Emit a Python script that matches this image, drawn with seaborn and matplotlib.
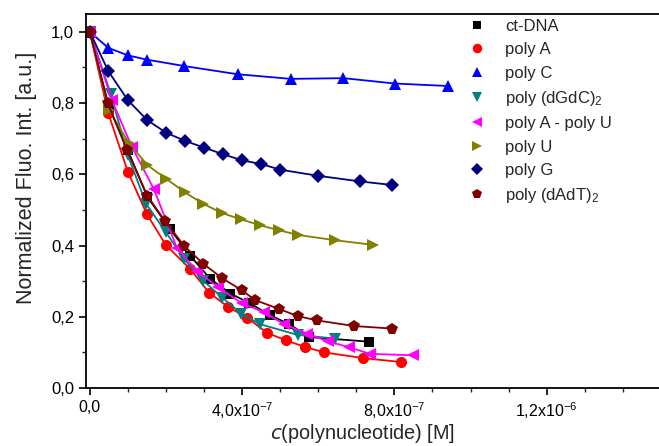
import numpy as np
import pandas as pd
import matplotlib
matplotlib.use('Agg')
import matplotlib.pyplot as plt
import seaborn as sns
from matplotlib.ticker import MultipleLocator, FuncFormatter
from matplotlib.lines import Line2D

# --- data (x in M, y normalized) ---
ct_dna_x = [0, 5.0e-8, 1.0e-7, 1.51e-7, 2.11e-7, 2.64e-7, 3.16e-7, 3.69e-7, 4.19e-7, 4.72e-7, 5.24e-7, 5.76e-7, 7.34e-7]
ct_dna_y = [1.0, 0.79, 0.667, 0.537, 0.446, 0.371, 0.307, 0.265, 0.239, 0.205, 0.179, 0.143, 0.13]

polyA_x = [0, 4.8e-8, 1.0e-7, 1.5e-7, 2.0e-7, 2.64e-7, 3.13e-7, 3.64e-7, 4.14e-7, 4.65e-7, 5.15e-7, 5.66e-7, 6.16e-7, 7.18e-7, 8.17e-7]
polyA_y = [1.0, 0.773, 0.607, 0.488, 0.401, 0.334, 0.268, 0.227, 0.197, 0.155, 0.134, 0.115, 0.100, 0.084, 0.073]

polyC_x = [0, 4.85e-8, 1.0e-7, 1.5e-7, 2.48e-7, 3.88e-7, 5.28e-7, 6.66e-7, 8.01e-7, 9.4e-7]
polyC_y = [1.0, 0.955, 0.934, 0.922, 0.904, 0.881, 0.868, 0.870, 0.855, 0.848]

dgdc_x = [0, 5.5e-8, 1.0e-7, 1.48e-7, 2.0e-7, 2.48e-7, 2.98e-7, 3.48e-7, 3.97e-7, 4.48e-7, 5.46e-7, 6.44e-7]
dgdc_y = [1.0, 0.826, 0.653, 0.517, 0.437, 0.362, 0.301, 0.254, 0.209, 0.179, 0.149, 0.139]

au_x = [0, 5.8e-8, 1.11e-7, 1.68e-7, 2.29e-7, 2.81e-7, 3.37e-7, 3.99e-7, 4.57e-7, 5.09e-7, 5.70e-7, 6.25e-7, 6.80e-7, 7.36e-7, 8.48e-7]
au_y = [1.0, 0.808, 0.676, 0.559, 0.393, 0.329, 0.283, 0.238, 0.213, 0.180, 0.153, 0.131, 0.115, 0.096, 0.092]

polyU_x = [0, 5.0e-8, 1.03e-7, 1.51e-7, 2.0e-7, 2.49e-7, 2.98e-7, 3.48e-7, 3.96e-7, 4.47e-7, 4.97e-7, 5.46e-7, 6.44e-7, 7.44e-7]
polyU_y = [1.0, 0.78, 0.688, 0.626, 0.588, 0.550, 0.517, 0.491, 0.474, 0.457, 0.443, 0.430, 0.415, 0.402]

polyG_x = [0, 4.9e-8, 1.0e-7, 1.5e-7, 2.0e-7, 2.5e-7, 3.0e-7, 3.51e-7, 4.01e-7, 4.5e-7, 5.0e-7, 5.99e-7, 7.1e-7, 7.95e-7]
polyG_y = [1.0, 0.889, 0.808, 0.753, 0.717, 0.694, 0.675, 0.656, 0.639, 0.629, 0.613, 0.596, 0.580, 0.570]

dadt_x = [0, 4.7e-8, 9.8e-8, 1.51e-7, 1.98e-7, 2.48e-7, 2.98e-7, 3.48e-7, 4.0e-7, 4.34e-7, 4.97e-7, 5.46e-7, 5.96e-7, 6.94e-7, 7.93e-7]
dadt_y = [1.0, 0.80, 0.667, 0.540, 0.468, 0.399, 0.349, 0.308, 0.274, 0.247, 0.222, 0.202, 0.190, 0.174, 0.167]

labels = ['ct-DNA', 'poly A', 'poly C', 'poly (dGdC)$_2$', 'poly A - poly U',
          'poly U', 'poly G', 'poly (dAdT)$_2$']

series = [
    (ct_dna_x, ct_dna_y, '#000000', 's', 7),
    (polyA_x, polyA_y, '#ff0000', 'o', 8),
    (polyC_x, polyC_y, '#0000ff', '^', 8),
    (dgdc_x, dgdc_y, '#008080', 'v', 8),
    (au_x, au_y, '#ff00ff', '<', 8),
    (polyU_x, polyU_y, '#808000', '>', 8),
    (polyG_x, polyG_y, '#000080', 'D', 7),
    (dadt_x, dadt_y, '#800000', 'p', 8.5),
]

sns.set_style('ticks')
plt.rcParams['font.family'] = ['Liberation Sans', 'DejaVu Sans']
plt.rcParams['mathtext.default'] = 'regular'

fig = plt.figure(figsize=(6.59, 4.46), dpi=100)
ax = fig.add_axes([0.1305, 0.130, 0.8695, 0.8385])

handles = []
for (xs, ys, col, mk, ms), lab in zip(series, labels):
    sns.lineplot(x=xs, y=ys, ax=ax, color=col, marker=mk, markersize=ms,
                 markeredgewidth=0, linewidth=1.3, sort=False, estimator=None)
    handles.append(Line2D([], [], linestyle='none', marker=mk, color=col,
                          markersize=ms * 0.85, markeredgewidth=0))

ax.set_xlim(-1.0e-8, 1.495e-6)
ax.set_ylim(0, 1.05)
ax.xaxis.set_major_locator(MultipleLocator(4e-7))
ax.xaxis.set_minor_locator(MultipleLocator(1e-7))
ax.yaxis.set_major_locator(MultipleLocator(0.2))
ax.yaxis.set_minor_locator(MultipleLocator(0.1))


def xfmt(v, pos):
    if abs(v) < 1e-12:
        return '0,0'
    e = int(np.floor(np.log10(abs(v))))
    m = v / 10 ** e
    return f'{m:.1f}'.replace('.', ',') + f'x10$^{{{e}}}$'


ax.xaxis.set_major_formatter(FuncFormatter(xfmt))
ax.yaxis.set_major_formatter(FuncFormatter(lambda v, p: f'{v:.1f}'.replace('.', ',')))

ax.tick_params(axis='both', which='major', direction='out', length=5, width=1.2,
               labelsize=12, colors='black')
ax.tick_params(axis='x', which='major', labelsize=11.5)
ax.tick_params(axis='both', which='minor', direction='out', length=3, width=1.0)
for s in ['left', 'bottom', 'top']:
    ax.spines[s].set_linewidth(1.3)
    ax.spines[s].set_color('black')
ax.spines['right'].set_visible(False)

ax.set_xlabel(r'$\mathit{c}$(polynucleotide) [M]', fontsize=14.3, labelpad=1, x=0.483)
ax.set_ylabel('Normalized Fluo. Int. [a.u.]', fontsize=15.5, labelpad=10, y=0.563)

ax.legend(handles, labels, loc='upper left', bbox_to_anchor=(0.657, 1.005),
          frameon=False, fontsize=12, handlelength=1.0, handletextpad=1.15,
          labelspacing=0.5, borderaxespad=0)

fig.savefig('out.png', dpi=100)
